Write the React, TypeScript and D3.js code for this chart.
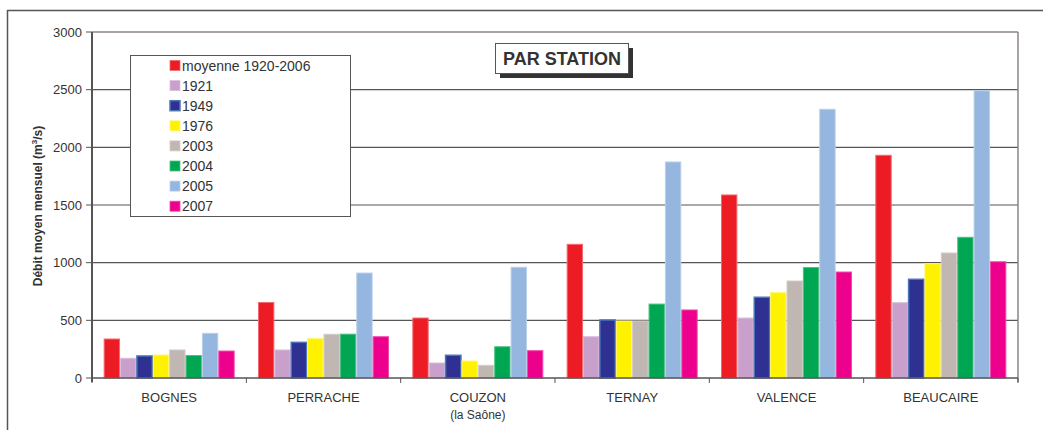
import React from "react";
import * as d3 from "d3";

const categories = ["BOGNES", "PERRACHE", "COUZON", "TERNAY", "VALENCE", "BEAUCAIRE"];
const subLabels = ["", "", "(la Saône)", "", "", ""];
const seriesNames = ["moyenne 1920-2006", "1921", "1949", "1976", "2003", "2004", "2005", "2007"];
const seriesColors = ["#ED1C24", "#C9A0CB", "#2E3192", "#FFF200", "#C0B6B2", "#00A651", "#95B6DF", "#EC008C"];
const seriesStrokes = ["#F26A70", "#D9BEDB", "#4D74B8", "#FFF56B", "#D3CCC9", "#4DC083", "#B9CFEA", "#F04DAE"];

const moyenne = [338, 655, 520, 1159, 1587, 1931];
const y1921 = [171, 243, 130, 358, 520, 653];
const y1949 = [191, 309, 197, 503, 700, 856];
const y1976 = [199, 341, 147, 494, 740, 991];
const y2003 = [243, 379, 110, 494, 841, 1084];
const y2004 = [195, 380, 271, 641, 958, 1220];
const y2005 = [387, 910, 960, 1873, 2330, 2491];
const y2007 = [234, 358, 237, 590, 919, 1008];
const seriesValues = [moyenne, y1921, y1949, y1976, y2003, y2004, y2005, y2007];

const yTicks = [0, 500, 1000, 1500, 2000, 2500, 3000];

const FONT = "'Liberation Sans', Arial, Helvetica, sans-serif";

export default function App() {
  const left = 92, right = 1018, top = 32, bottom = 378;
  const x = d3.scaleBand<string>().domain(categories).range([left, right]).paddingInner(0).paddingOuter(0);
  const bw = x.bandwidth();
  const gap = bw * 0.151;
  const xi = d3.scaleBand<string>().domain(seriesNames).range([gap / 2, bw - gap / 2]).padding(0);
  const y = d3.scaleLinear().domain([0, 3000]).range([bottom, top]);

  const boundaries = categories.map((c) => x(c)!).concat([right]);

  return (
    <svg width={1043} height={430} style={{ position: "absolute", left: 0, top: 0, fontFamily: FONT }}>
      <rect x={0} y={0} width={1043} height={430} fill="#fff" />
      {/* outer frame */}
      <line x1={7} y1={10.5} x2={1043} y2={10.5} stroke="#555" strokeWidth={1.5} />
      <line x1={7.5} y1={10} x2={7.5} y2={430} stroke="#555" strokeWidth={1.5} />

      {/* gridlines */}
      {yTicks.filter((t) => t > 0 && t < 3000).map((t) => (
        <line key={t} x1={left} x2={right} y1={y(t)} y2={y(t)} stroke="#555" strokeWidth={1.2} />
      ))}
      {/* top border & right border */}
      <line x1={left} x2={right} y1={y(3000)} y2={y(3000)} stroke="#8C8482" strokeWidth={1.5} />
      <line x1={right} x2={right} y1={top} y2={bottom + 4} stroke="#8C8482" strokeWidth={1.5} />

      {/* bars */}
      {categories.map((c, ci) => (
        <g key={c}>
          {seriesNames.map((s, si) => {
            const v = seriesValues[si][ci];
            const bx = x(c)! + xi(s)!;
            return (
              <rect
                key={s}
                x={bx + 0.5}
                y={y(v)}
                width={xi.bandwidth() - 1}
                height={bottom - y(v)}
                fill={seriesColors[si]}
                stroke={seriesStrokes[si]}
                strokeWidth={si === 2 ? 1.5 : 1}
              />
            );
          })}
        </g>
      ))}

      {/* axes */}
      <line x1={left} x2={left} y1={top} y2={bottom + 4} stroke="#555" strokeWidth={2} />
      <line x1={left} x2={right} y1={bottom} y2={bottom} stroke="#555" strokeWidth={1.5} />
      {boundaries.map((b, i) => (
        <line key={i} x1={b} x2={b} y1={bottom} y2={bottom + 5} stroke="#555" strokeWidth={1} />
      ))}
      {yTicks.map((t) => (
        <g key={t}>
          <line x1={left - 6} x2={left} y1={y(t)} y2={y(t)} stroke="#555" strokeWidth={1} />
          <text x={82} y={y(t) + 4.5} textAnchor="end" fontSize={13} fill="#333">
            {t}
          </text>
        </g>
      ))}

      {/* y title */}
      <text
        transform={`translate(42,206) rotate(-90)`}
        textAnchor="middle"
        fontSize={12}
        fontWeight="bold"
        fill="#333"
      >
        Débit moyen mensuel (m<tspan dy={-5} fontSize={8}>3</tspan>
        <tspan dy={5}>/s)</tspan>
      </text>

      {/* x labels */}
      {categories.map((c, ci) => (
        <g key={c}>
          <text x={x(c)! + bw / 2} y={402} textAnchor="middle" fontSize={13} fill="#333">
            {c}
          </text>
          {subLabels[ci] && (
            <text x={x(c)! + bw / 2} y={419} textAnchor="middle" fontSize={12} fill="#333">
              {subLabels[ci]}
            </text>
          )}
        </g>
      ))}

      {/* legend */}
      <rect x={130.5} y={55.5} width={220} height={161} fill="#fff" stroke="#555" strokeWidth={1} />
      {seriesNames.map((s, si) => {
        const cy = 65.5 + si * 20.1;
        return (
          <g key={s}>
            <rect x={170} y={cy - 5} width={10} height={10} fill={seriesColors[si]} stroke={seriesStrokes[si]} strokeWidth={si === 2 ? 1.5 : 0.8} />
            <text x={182} y={cy + 5} fontSize={14} fill="#333">
              {s}
            </text>
          </g>
        );
      })}

      {/* title box */}
      <rect x={500} y={48} width={133} height={30} fill="#333" />
      <rect x={495.5} y={43.5} width={133} height={30} fill="#fff" stroke="#555" strokeWidth={1} />
      <text x={562} y={65} textAnchor="middle" fontSize={18} fontWeight="bold" fill="#333">
        PAR STATION
      </text>
    </svg>
  );
}
